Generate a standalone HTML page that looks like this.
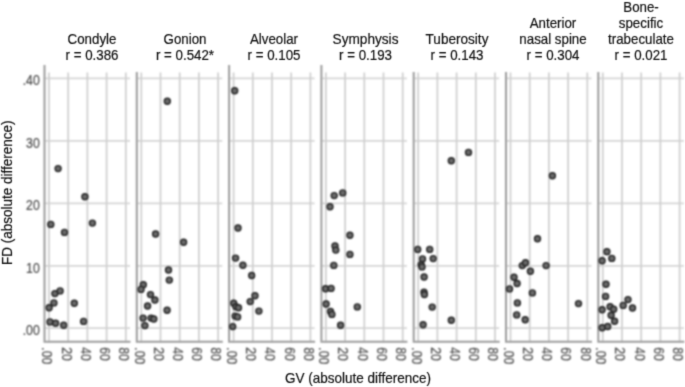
<!DOCTYPE html><html><head><meta charset="utf-8"><style>html,body{margin:0;padding:0;background:#fff;}body{width:685px;height:387px;overflow:hidden;}svg{display:block;font-family:"Liberation Sans",sans-serif;}</style></head><body>
<svg width="685" height="387" viewBox="0 0 685 387">
<defs><filter id="b" x="0" y="0" width="685" height="387" filterUnits="userSpaceOnUse" color-interpolation-filters="sRGB"><feConvolveMatrix order="3" kernelMatrix="1 5 1 5 25 5 1 5 1" divisor="49" edgeMode="duplicate" preserveAlpha="true"/></filter><filter id="b2" x="0" y="0" width="685" height="387" filterUnits="userSpaceOnUse" color-interpolation-filters="sRGB"><feConvolveMatrix order="3" kernelMatrix="1 2 1 2 4 2 1 2 1" divisor="16" edgeMode="none" preserveAlpha="false"/></filter></defs><g filter="url(#b)">
<rect width="685" height="387" fill="#fff"/>
<g filter="url(#b2)">
<path d="M44.5 78.4H130.0M44.5 140.9H130.0M44.5 203.3H130.0M44.5 265.8H130.0M44.5 328.2H130.0M136.8 78.4H222.3M136.8 140.9H222.3M136.8 203.3H222.3M136.8 265.8H222.3M136.8 328.2H222.3M229.1 78.4H314.6M229.1 140.9H314.6M229.1 203.3H314.6M229.1 265.8H314.6M229.1 328.2H314.6M321.4 78.4H406.9M321.4 140.9H406.9M321.4 203.3H406.9M321.4 265.8H406.9M321.4 328.2H406.9M413.7 78.4H499.2M413.7 140.9H499.2M413.7 203.3H499.2M413.7 265.8H499.2M413.7 328.2H499.2M506.0 78.4H591.5M506.0 140.9H591.5M506.0 203.3H591.5M506.0 265.8H591.5M506.0 328.2H591.5M598.3 78.4H683.8M598.3 140.9H683.8M598.3 203.3H683.8M598.3 265.8H683.8M598.3 328.2H683.8" stroke="#d6d6d6" stroke-width="1.7" fill="none"/>
<path d="M49.0 72.5V341.8M68.2 72.5V341.8M87.4 72.5V341.8M106.6 72.5V341.8M125.8 72.5V341.8M141.3 72.5V341.8M160.5 72.5V341.8M179.7 72.5V341.8M198.9 72.5V341.8M218.1 72.5V341.8M233.6 72.5V341.8M252.8 72.5V341.8M272.0 72.5V341.8M291.2 72.5V341.8M310.4 72.5V341.8M325.9 72.5V341.8M345.1 72.5V341.8M364.3 72.5V341.8M383.5 72.5V341.8M402.7 72.5V341.8M418.2 72.5V341.8M437.4 72.5V341.8M456.6 72.5V341.8M475.8 72.5V341.8M495.0 72.5V341.8M510.5 72.5V341.8M529.7 72.5V341.8M548.9 72.5V341.8M568.1 72.5V341.8M587.3 72.5V341.8M602.8 72.5V341.8M622.0 72.5V341.8M641.2 72.5V341.8M660.4 72.5V341.8M679.6 72.5V341.8" stroke="#cecece" stroke-width="1.7" fill="none"/>
</g>
<path filter="url(#b2)" d="M44.5 65V341.8H130.5M136.8 72V341.8H222.8M229.1 65V341.8H315.1M321.4 65V341.8H407.4M413.7 72V341.8H499.7M506.0 72V341.8H592.0M598.3 72V341.8H684.3" stroke="#9c9c9c" stroke-width="2.0" fill="none"/>
<g filter="url(#b2)">
<circle cx="58.1" cy="168.6" r="3.0" fill="#6a6a6a" stroke="#262626" stroke-width="1.4"/>
<circle cx="84.9" cy="196.8" r="3.0" fill="#6a6a6a" stroke="#262626" stroke-width="1.4"/>
<circle cx="50.8" cy="224.4" r="3.0" fill="#6a6a6a" stroke="#262626" stroke-width="1.4"/>
<circle cx="64.5" cy="232.4" r="3.0" fill="#6a6a6a" stroke="#262626" stroke-width="1.4"/>
<circle cx="92.4" cy="223.1" r="3.0" fill="#6a6a6a" stroke="#262626" stroke-width="1.4"/>
<circle cx="54.9" cy="293.6" r="3.0" fill="#6a6a6a" stroke="#262626" stroke-width="1.4"/>
<circle cx="60.1" cy="290.9" r="3.0" fill="#6a6a6a" stroke="#262626" stroke-width="1.4"/>
<circle cx="53.9" cy="302.9" r="3.0" fill="#6a6a6a" stroke="#262626" stroke-width="1.4"/>
<circle cx="49.1" cy="307.8" r="3.0" fill="#6a6a6a" stroke="#262626" stroke-width="1.4"/>
<circle cx="74.3" cy="303.3" r="3.0" fill="#6a6a6a" stroke="#262626" stroke-width="1.4"/>
<circle cx="50.0" cy="321.9" r="3.0" fill="#6a6a6a" stroke="#262626" stroke-width="1.4"/>
<circle cx="55.6" cy="323.2" r="3.0" fill="#6a6a6a" stroke="#262626" stroke-width="1.4"/>
<circle cx="63.7" cy="325.3" r="3.0" fill="#6a6a6a" stroke="#262626" stroke-width="1.4"/>
<circle cx="83.6" cy="321.4" r="3.0" fill="#6a6a6a" stroke="#262626" stroke-width="1.4"/>
<circle cx="167.3" cy="101.2" r="3.0" fill="#6a6a6a" stroke="#262626" stroke-width="1.4"/>
<circle cx="155.6" cy="234.0" r="3.0" fill="#6a6a6a" stroke="#262626" stroke-width="1.4"/>
<circle cx="183.6" cy="242.2" r="3.0" fill="#6a6a6a" stroke="#262626" stroke-width="1.4"/>
<circle cx="168.5" cy="270.0" r="3.0" fill="#6a6a6a" stroke="#262626" stroke-width="1.4"/>
<circle cx="169.3" cy="280.1" r="3.0" fill="#6a6a6a" stroke="#262626" stroke-width="1.4"/>
<circle cx="143.3" cy="284.7" r="3.0" fill="#6a6a6a" stroke="#262626" stroke-width="1.4"/>
<circle cx="141.0" cy="289.4" r="3.0" fill="#6a6a6a" stroke="#262626" stroke-width="1.4"/>
<circle cx="150.5" cy="294.6" r="3.0" fill="#6a6a6a" stroke="#262626" stroke-width="1.4"/>
<circle cx="154.9" cy="300.0" r="3.0" fill="#6a6a6a" stroke="#262626" stroke-width="1.4"/>
<circle cx="147.6" cy="306.0" r="3.0" fill="#6a6a6a" stroke="#262626" stroke-width="1.4"/>
<circle cx="167.1" cy="310.3" r="3.0" fill="#6a6a6a" stroke="#262626" stroke-width="1.4"/>
<circle cx="143.1" cy="318.1" r="3.0" fill="#6a6a6a" stroke="#262626" stroke-width="1.4"/>
<circle cx="151.1" cy="318.1" r="3.0" fill="#6a6a6a" stroke="#262626" stroke-width="1.4"/>
<circle cx="153.8" cy="319.0" r="3.0" fill="#6a6a6a" stroke="#262626" stroke-width="1.4"/>
<circle cx="144.9" cy="325.6" r="3.0" fill="#6a6a6a" stroke="#262626" stroke-width="1.4"/>
<circle cx="234.7" cy="90.8" r="3.0" fill="#6a6a6a" stroke="#262626" stroke-width="1.4"/>
<circle cx="238.0" cy="228.0" r="3.0" fill="#6a6a6a" stroke="#262626" stroke-width="1.4"/>
<circle cx="235.6" cy="258.1" r="3.0" fill="#6a6a6a" stroke="#262626" stroke-width="1.4"/>
<circle cx="242.9" cy="265.2" r="3.0" fill="#6a6a6a" stroke="#262626" stroke-width="1.4"/>
<circle cx="251.7" cy="275.5" r="3.0" fill="#6a6a6a" stroke="#262626" stroke-width="1.4"/>
<circle cx="255.0" cy="295.8" r="3.0" fill="#6a6a6a" stroke="#262626" stroke-width="1.4"/>
<circle cx="250.2" cy="301.6" r="3.0" fill="#6a6a6a" stroke="#262626" stroke-width="1.4"/>
<circle cx="233.7" cy="303.3" r="3.0" fill="#6a6a6a" stroke="#262626" stroke-width="1.4"/>
<circle cx="236.0" cy="306.8" r="3.0" fill="#6a6a6a" stroke="#262626" stroke-width="1.4"/>
<circle cx="238.5" cy="307.8" r="3.0" fill="#6a6a6a" stroke="#262626" stroke-width="1.4"/>
<circle cx="258.9" cy="311.1" r="3.0" fill="#6a6a6a" stroke="#262626" stroke-width="1.4"/>
<circle cx="235.2" cy="316.1" r="3.0" fill="#6a6a6a" stroke="#262626" stroke-width="1.4"/>
<circle cx="237.6" cy="316.9" r="3.0" fill="#6a6a6a" stroke="#262626" stroke-width="1.4"/>
<circle cx="232.7" cy="326.6" r="3.0" fill="#6a6a6a" stroke="#262626" stroke-width="1.4"/>
<circle cx="334.2" cy="195.6" r="3.0" fill="#6a6a6a" stroke="#262626" stroke-width="1.4"/>
<circle cx="342.7" cy="192.9" r="3.0" fill="#6a6a6a" stroke="#262626" stroke-width="1.4"/>
<circle cx="330.0" cy="206.8" r="3.0" fill="#6a6a6a" stroke="#262626" stroke-width="1.4"/>
<circle cx="349.9" cy="235.2" r="3.0" fill="#6a6a6a" stroke="#262626" stroke-width="1.4"/>
<circle cx="335.0" cy="246.0" r="3.0" fill="#6a6a6a" stroke="#262626" stroke-width="1.4"/>
<circle cx="335.8" cy="250.1" r="3.0" fill="#6a6a6a" stroke="#262626" stroke-width="1.4"/>
<circle cx="349.9" cy="254.4" r="3.0" fill="#6a6a6a" stroke="#262626" stroke-width="1.4"/>
<circle cx="333.8" cy="265.4" r="3.0" fill="#6a6a6a" stroke="#262626" stroke-width="1.4"/>
<circle cx="325.5" cy="288.8" r="3.0" fill="#6a6a6a" stroke="#262626" stroke-width="1.4"/>
<circle cx="331.1" cy="288.4" r="3.0" fill="#6a6a6a" stroke="#262626" stroke-width="1.4"/>
<circle cx="326.1" cy="304.0" r="3.0" fill="#6a6a6a" stroke="#262626" stroke-width="1.4"/>
<circle cx="330.5" cy="311.5" r="3.0" fill="#6a6a6a" stroke="#262626" stroke-width="1.4"/>
<circle cx="331.9" cy="314.4" r="3.0" fill="#6a6a6a" stroke="#262626" stroke-width="1.4"/>
<circle cx="357.3" cy="306.9" r="3.0" fill="#6a6a6a" stroke="#262626" stroke-width="1.4"/>
<circle cx="340.6" cy="325.3" r="3.0" fill="#6a6a6a" stroke="#262626" stroke-width="1.4"/>
<circle cx="451.3" cy="160.8" r="3.0" fill="#6a6a6a" stroke="#262626" stroke-width="1.4"/>
<circle cx="468.5" cy="152.4" r="3.0" fill="#6a6a6a" stroke="#262626" stroke-width="1.4"/>
<circle cx="417.7" cy="249.4" r="3.0" fill="#6a6a6a" stroke="#262626" stroke-width="1.4"/>
<circle cx="429.7" cy="249.4" r="3.0" fill="#6a6a6a" stroke="#262626" stroke-width="1.4"/>
<circle cx="422.5" cy="258.9" r="3.0" fill="#6a6a6a" stroke="#262626" stroke-width="1.4"/>
<circle cx="433.2" cy="258.6" r="3.0" fill="#6a6a6a" stroke="#262626" stroke-width="1.4"/>
<circle cx="421.2" cy="264.8" r="3.0" fill="#6a6a6a" stroke="#262626" stroke-width="1.4"/>
<circle cx="422.0" cy="266.9" r="3.0" fill="#6a6a6a" stroke="#262626" stroke-width="1.4"/>
<circle cx="424.1" cy="277.0" r="3.0" fill="#6a6a6a" stroke="#262626" stroke-width="1.4"/>
<circle cx="424.0" cy="292.3" r="3.0" fill="#6a6a6a" stroke="#262626" stroke-width="1.4"/>
<circle cx="424.4" cy="294.5" r="3.0" fill="#6a6a6a" stroke="#262626" stroke-width="1.4"/>
<circle cx="432.2" cy="307.1" r="3.0" fill="#6a6a6a" stroke="#262626" stroke-width="1.4"/>
<circle cx="423.1" cy="324.8" r="3.0" fill="#6a6a6a" stroke="#262626" stroke-width="1.4"/>
<circle cx="451.3" cy="320.2" r="3.0" fill="#6a6a6a" stroke="#262626" stroke-width="1.4"/>
<circle cx="552.4" cy="175.7" r="3.0" fill="#6a6a6a" stroke="#262626" stroke-width="1.4"/>
<circle cx="537.5" cy="238.8" r="3.0" fill="#6a6a6a" stroke="#262626" stroke-width="1.4"/>
<circle cx="522.3" cy="265.6" r="3.0" fill="#6a6a6a" stroke="#262626" stroke-width="1.4"/>
<circle cx="525.5" cy="262.7" r="3.0" fill="#6a6a6a" stroke="#262626" stroke-width="1.4"/>
<circle cx="546.1" cy="265.6" r="3.0" fill="#6a6a6a" stroke="#262626" stroke-width="1.4"/>
<circle cx="530.4" cy="271.2" r="3.0" fill="#6a6a6a" stroke="#262626" stroke-width="1.4"/>
<circle cx="514.0" cy="277.3" r="3.0" fill="#6a6a6a" stroke="#262626" stroke-width="1.4"/>
<circle cx="517.1" cy="283.5" r="3.0" fill="#6a6a6a" stroke="#262626" stroke-width="1.4"/>
<circle cx="509.5" cy="288.9" r="3.0" fill="#6a6a6a" stroke="#262626" stroke-width="1.4"/>
<circle cx="532.4" cy="292.9" r="3.0" fill="#6a6a6a" stroke="#262626" stroke-width="1.4"/>
<circle cx="517.4" cy="302.9" r="3.0" fill="#6a6a6a" stroke="#262626" stroke-width="1.4"/>
<circle cx="578.5" cy="303.6" r="3.0" fill="#6a6a6a" stroke="#262626" stroke-width="1.4"/>
<circle cx="516.7" cy="314.9" r="3.0" fill="#6a6a6a" stroke="#262626" stroke-width="1.4"/>
<circle cx="525.2" cy="319.7" r="3.0" fill="#6a6a6a" stroke="#262626" stroke-width="1.4"/>
<circle cx="606.9" cy="251.7" r="3.0" fill="#6a6a6a" stroke="#262626" stroke-width="1.4"/>
<circle cx="611.8" cy="258.4" r="3.0" fill="#6a6a6a" stroke="#262626" stroke-width="1.4"/>
<circle cx="602.1" cy="260.7" r="3.0" fill="#6a6a6a" stroke="#262626" stroke-width="1.4"/>
<circle cx="606.0" cy="284.2" r="3.0" fill="#6a6a6a" stroke="#262626" stroke-width="1.4"/>
<circle cx="605.6" cy="296.4" r="3.0" fill="#6a6a6a" stroke="#262626" stroke-width="1.4"/>
<circle cx="628.0" cy="299.6" r="3.0" fill="#6a6a6a" stroke="#262626" stroke-width="1.4"/>
<circle cx="623.2" cy="305.4" r="3.0" fill="#6a6a6a" stroke="#262626" stroke-width="1.4"/>
<circle cx="632.5" cy="308.0" r="3.0" fill="#6a6a6a" stroke="#262626" stroke-width="1.4"/>
<circle cx="602.1" cy="309.7" r="3.0" fill="#6a6a6a" stroke="#262626" stroke-width="1.4"/>
<circle cx="610.1" cy="306.8" r="3.0" fill="#6a6a6a" stroke="#262626" stroke-width="1.4"/>
<circle cx="613.7" cy="309.3" r="3.0" fill="#6a6a6a" stroke="#262626" stroke-width="1.4"/>
<circle cx="611.1" cy="315.2" r="3.0" fill="#6a6a6a" stroke="#262626" stroke-width="1.4"/>
<circle cx="614.6" cy="321.3" r="3.0" fill="#6a6a6a" stroke="#262626" stroke-width="1.4"/>
<circle cx="602.1" cy="327.8" r="3.0" fill="#6a6a6a" stroke="#262626" stroke-width="1.4"/>
<circle cx="607.7" cy="326.5" r="3.0" fill="#6a6a6a" stroke="#262626" stroke-width="1.4"/>
</g>
<text transform="translate(92.0,43.9) scale(0.9250,1)" text-anchor="middle" font-size="14.4" fill="#111" stroke="#111" stroke-width="0.2">Condyle</text>
<text transform="translate(92.0,60.1) scale(0.9250,1)" text-anchor="middle" font-size="14.4" fill="#111" stroke="#111" stroke-width="0.2">r = 0.386</text>
<text transform="translate(185.0,43.9) scale(0.9250,1)" text-anchor="middle" font-size="14.4" fill="#111" stroke="#111" stroke-width="0.2">Gonion</text>
<text transform="translate(185.0,60.1) scale(0.9250,1)" text-anchor="middle" font-size="14.4" fill="#111" stroke="#111" stroke-width="0.2">r = 0.542*</text>
<text transform="translate(274.0,43.9) scale(0.9250,1)" text-anchor="middle" font-size="14.4" fill="#111" stroke="#111" stroke-width="0.2">Alveolar</text>
<text transform="translate(274.0,60.1) scale(0.9250,1)" text-anchor="middle" font-size="14.4" fill="#111" stroke="#111" stroke-width="0.2">r = 0.105</text>
<text transform="translate(365.5,43.9) scale(0.9481,1)" text-anchor="middle" font-size="14.4" fill="#111" stroke="#111" stroke-width="0.2">Symphysis</text>
<text transform="translate(365.5,60.1) scale(0.9250,1)" text-anchor="middle" font-size="14.4" fill="#111" stroke="#111" stroke-width="0.2">r = 0.193</text>
<text transform="translate(457.0,43.9) scale(0.9435,1)" text-anchor="middle" font-size="14.4" fill="#111" stroke="#111" stroke-width="0.2">Tuberosity</text>
<text transform="translate(457.0,60.1) scale(0.9250,1)" text-anchor="middle" font-size="14.4" fill="#111" stroke="#111" stroke-width="0.2">r = 0.143</text>
<text transform="translate(553.0,27.7) scale(0.9250,1)" text-anchor="middle" font-size="14.4" fill="#111" stroke="#111" stroke-width="0.2">Anterior</text>
<text transform="translate(553.0,43.9) scale(0.9250,1)" text-anchor="middle" font-size="14.4" fill="#111" stroke="#111" stroke-width="0.2">nasal spine</text>
<text transform="translate(553.0,60.1) scale(0.9250,1)" text-anchor="middle" font-size="14.4" fill="#111" stroke="#111" stroke-width="0.2">r = 0.304</text>
<text transform="translate(641.0,11.5) scale(0.9250,1)" text-anchor="middle" font-size="14.4" fill="#111" stroke="#111" stroke-width="0.2">Bone-</text>
<text transform="translate(641.0,27.7) scale(0.9250,1)" text-anchor="middle" font-size="14.4" fill="#111" stroke="#111" stroke-width="0.2">specific</text>
<text transform="translate(641.0,43.9) scale(0.9250,1)" text-anchor="middle" font-size="14.4" fill="#111" stroke="#111" stroke-width="0.2">trabeculate</text>
<text transform="translate(641.0,60.1) scale(0.9250,1)" text-anchor="middle" font-size="14.4" fill="#111" stroke="#111" stroke-width="0.2">r = 0.021</text>
<g filter="url(#b2)">
<text transform="translate(39.7,85.3) scale(0.87,1)" text-anchor="end" font-size="14.1" fill="#4a4a4a" stroke="#4a4a4a" stroke-width="0.2">.40</text>
<text transform="translate(39.7,147.8) scale(0.87,1)" text-anchor="end" font-size="14.1" fill="#4a4a4a" stroke="#4a4a4a" stroke-width="0.2">30</text>
<text transform="translate(39.7,210.2) scale(0.87,1)" text-anchor="end" font-size="14.1" fill="#4a4a4a" stroke="#4a4a4a" stroke-width="0.2">20</text>
<text transform="translate(39.7,272.6) scale(0.87,1)" text-anchor="end" font-size="14.1" fill="#4a4a4a" stroke="#4a4a4a" stroke-width="0.2">10</text>
<text transform="translate(39.7,335.1) scale(0.87,1)" text-anchor="end" font-size="14.1" fill="#4a4a4a" stroke="#4a4a4a" stroke-width="0.2">.00</text>
<text transform="translate(42.3,347.3) rotate(90) scale(0.87,1)" font-size="14.1" fill="#4a4a4a" stroke="#4a4a4a" stroke-width="0.2">.00</text>
<text transform="translate(61.5,347.3) rotate(90) scale(0.87,1)" font-size="14.1" fill="#4a4a4a" stroke="#4a4a4a" stroke-width="0.2">20</text>
<text transform="translate(80.7,347.3) rotate(90) scale(0.87,1)" font-size="14.1" fill="#4a4a4a" stroke="#4a4a4a" stroke-width="0.2">40</text>
<text transform="translate(99.9,347.3) rotate(90) scale(0.87,1)" font-size="14.1" fill="#4a4a4a" stroke="#4a4a4a" stroke-width="0.2">60</text>
<text transform="translate(119.1,347.3) rotate(90) scale(0.87,1)" font-size="14.1" fill="#4a4a4a" stroke="#4a4a4a" stroke-width="0.2">80</text>
<text transform="translate(134.6,347.3) rotate(90) scale(0.87,1)" font-size="14.1" fill="#4a4a4a" stroke="#4a4a4a" stroke-width="0.2">.00</text>
<text transform="translate(153.8,347.3) rotate(90) scale(0.87,1)" font-size="14.1" fill="#4a4a4a" stroke="#4a4a4a" stroke-width="0.2">20</text>
<text transform="translate(173.0,347.3) rotate(90) scale(0.87,1)" font-size="14.1" fill="#4a4a4a" stroke="#4a4a4a" stroke-width="0.2">40</text>
<text transform="translate(192.2,347.3) rotate(90) scale(0.87,1)" font-size="14.1" fill="#4a4a4a" stroke="#4a4a4a" stroke-width="0.2">60</text>
<text transform="translate(211.4,347.3) rotate(90) scale(0.87,1)" font-size="14.1" fill="#4a4a4a" stroke="#4a4a4a" stroke-width="0.2">80</text>
<text transform="translate(226.9,347.3) rotate(90) scale(0.87,1)" font-size="14.1" fill="#4a4a4a" stroke="#4a4a4a" stroke-width="0.2">.00</text>
<text transform="translate(246.1,347.3) rotate(90) scale(0.87,1)" font-size="14.1" fill="#4a4a4a" stroke="#4a4a4a" stroke-width="0.2">20</text>
<text transform="translate(265.3,347.3) rotate(90) scale(0.87,1)" font-size="14.1" fill="#4a4a4a" stroke="#4a4a4a" stroke-width="0.2">40</text>
<text transform="translate(284.5,347.3) rotate(90) scale(0.87,1)" font-size="14.1" fill="#4a4a4a" stroke="#4a4a4a" stroke-width="0.2">60</text>
<text transform="translate(303.7,347.3) rotate(90) scale(0.87,1)" font-size="14.1" fill="#4a4a4a" stroke="#4a4a4a" stroke-width="0.2">80</text>
<text transform="translate(319.2,347.3) rotate(90) scale(0.87,1)" font-size="14.1" fill="#4a4a4a" stroke="#4a4a4a" stroke-width="0.2">.00</text>
<text transform="translate(338.4,347.3) rotate(90) scale(0.87,1)" font-size="14.1" fill="#4a4a4a" stroke="#4a4a4a" stroke-width="0.2">20</text>
<text transform="translate(357.6,347.3) rotate(90) scale(0.87,1)" font-size="14.1" fill="#4a4a4a" stroke="#4a4a4a" stroke-width="0.2">40</text>
<text transform="translate(376.8,347.3) rotate(90) scale(0.87,1)" font-size="14.1" fill="#4a4a4a" stroke="#4a4a4a" stroke-width="0.2">60</text>
<text transform="translate(396.0,347.3) rotate(90) scale(0.87,1)" font-size="14.1" fill="#4a4a4a" stroke="#4a4a4a" stroke-width="0.2">80</text>
<text transform="translate(411.5,347.3) rotate(90) scale(0.87,1)" font-size="14.1" fill="#4a4a4a" stroke="#4a4a4a" stroke-width="0.2">.00</text>
<text transform="translate(430.7,347.3) rotate(90) scale(0.87,1)" font-size="14.1" fill="#4a4a4a" stroke="#4a4a4a" stroke-width="0.2">20</text>
<text transform="translate(449.9,347.3) rotate(90) scale(0.87,1)" font-size="14.1" fill="#4a4a4a" stroke="#4a4a4a" stroke-width="0.2">40</text>
<text transform="translate(469.1,347.3) rotate(90) scale(0.87,1)" font-size="14.1" fill="#4a4a4a" stroke="#4a4a4a" stroke-width="0.2">60</text>
<text transform="translate(488.3,347.3) rotate(90) scale(0.87,1)" font-size="14.1" fill="#4a4a4a" stroke="#4a4a4a" stroke-width="0.2">80</text>
<text transform="translate(503.8,347.3) rotate(90) scale(0.87,1)" font-size="14.1" fill="#4a4a4a" stroke="#4a4a4a" stroke-width="0.2">.00</text>
<text transform="translate(523.0,347.3) rotate(90) scale(0.87,1)" font-size="14.1" fill="#4a4a4a" stroke="#4a4a4a" stroke-width="0.2">20</text>
<text transform="translate(542.2,347.3) rotate(90) scale(0.87,1)" font-size="14.1" fill="#4a4a4a" stroke="#4a4a4a" stroke-width="0.2">40</text>
<text transform="translate(561.4,347.3) rotate(90) scale(0.87,1)" font-size="14.1" fill="#4a4a4a" stroke="#4a4a4a" stroke-width="0.2">60</text>
<text transform="translate(580.6,347.3) rotate(90) scale(0.87,1)" font-size="14.1" fill="#4a4a4a" stroke="#4a4a4a" stroke-width="0.2">80</text>
<text transform="translate(596.1,347.3) rotate(90) scale(0.87,1)" font-size="14.1" fill="#4a4a4a" stroke="#4a4a4a" stroke-width="0.2">.00</text>
<text transform="translate(615.3,347.3) rotate(90) scale(0.87,1)" font-size="14.1" fill="#4a4a4a" stroke="#4a4a4a" stroke-width="0.2">20</text>
<text transform="translate(634.5,347.3) rotate(90) scale(0.87,1)" font-size="14.1" fill="#4a4a4a" stroke="#4a4a4a" stroke-width="0.2">40</text>
<text transform="translate(653.7,347.3) rotate(90) scale(0.87,1)" font-size="14.1" fill="#4a4a4a" stroke="#4a4a4a" stroke-width="0.2">60</text>
<text transform="translate(672.9,347.3) rotate(90) scale(0.87,1)" font-size="14.1" fill="#4a4a4a" stroke="#4a4a4a" stroke-width="0.2">80</text>
</g>
<text transform="translate(11.9,192.7) rotate(-90) scale(0.925,1)" text-anchor="middle" font-size="14.6" fill="#111" stroke="#111" stroke-width="0.2">FD (absolute difference)</text>
<text transform="translate(358.1,382.6) scale(0.925,1)" text-anchor="middle" font-size="14.6" fill="#111" stroke="#111" stroke-width="0.2">GV (absolute difference)</text>
</g></svg></body></html>
